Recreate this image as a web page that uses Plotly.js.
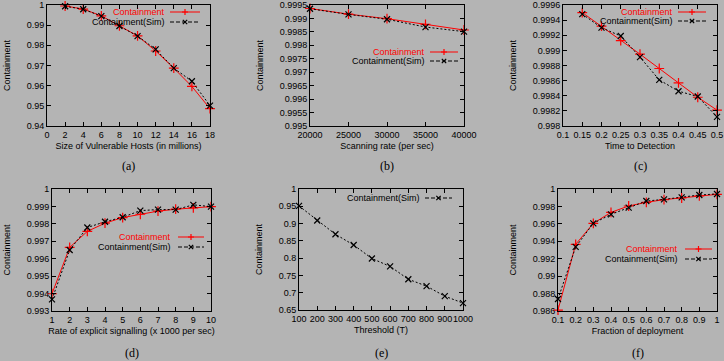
<!DOCTYPE html>
<html><head><meta charset="utf-8">
<script src="https://cdn.plot.ly/plotly-3.0.1.min.js"></script>
<style>body{margin:0;padding:0;background:#b4b4b4}#chart{width:724px;height:361px}</style>
</head><body><div id="chart"></div>
<script>
// ---- data ----
const seriesModel = "Containment";
const seriesSim = "Containment(Sim)";
const yTitle = "Containment";
const captions = ["(a)", "(b)", "(c)", "(d)", "(e)", "(f)"];
const xTitles = ["Size of Vulnerable Hosts (in millions)", "Scanning rate (per sec)", "Time to Detection",
                 "Rate of explicit signalling (x 1000 per sec)", "Threshold (T)", "Fraction of deployment"];

const aX = [2, 4, 6, 8, 10, 12, 14, 16, 18];
const aModel = [0.9995, 0.9980, 0.9946, 0.9897, 0.9847, 0.9772, 0.9687, 0.9596, 0.9486];
const aSim = [0.9994, 0.9979, 0.9945, 0.9896, 0.9846, 0.9780, 0.9687, 0.9622, 0.9501];

const bX = [20000, 25000, 30000, 35000, 40000];
const bModel = [0.99937, 0.99916, 0.99899, 0.99878, 0.99857];
const bSim = [0.99936, 0.99915, 0.99897, 0.99868, 0.99851];

const cX = [0.15, 0.2, 0.25, 0.3, 0.35, 0.4, 0.45, 0.5];
const cModel = [0.99950, 0.99932, 0.99913, 0.99895, 0.99876, 0.99857, 0.99838, 0.99821];
const cSim = [0.99948, 0.99930, 0.99919, 0.99891, 0.99861, 0.99846, 0.99839, 0.99812];

const dX = [1, 2, 3, 4, 5, 6, 7, 8, 9, 10];
const dModel = [0.99399, 0.99665, 0.99757, 0.99804, 0.99836, 0.99855, 0.99873, 0.99884, 0.99892, 0.99899];
const dSim = [0.99367, 0.99650, 0.99779, 0.99812, 0.99838, 0.99876, 0.99882, 0.99882, 0.99909, 0.99899];

const eX = [100, 200, 300, 400, 500, 600, 700, 800, 900, 1000];
const eSim = [0.951, 0.909, 0.869, 0.838, 0.799, 0.776, 0.739, 0.719, 0.690, 0.670];

const fX = [0.1, 0.2, 0.3, 0.4, 0.5, 0.6, 0.7, 0.8, 0.9, 1.0];
const fModel = [0.98611, 0.99365, 0.99606, 0.99732, 0.99805, 0.99847, 0.99878, 0.99897, 0.99920, 0.99939];
const fSim = [0.98738, 0.99335, 0.99606, 0.99709, 0.99786, 0.99862, 0.99881, 0.99904, 0.99931, 0.99943];

// ---- layout helpers ----
const W = 724, H = 361;
const px = x => x / W, py = y => 1 - y / H;
const BG = '#b4b4b4';
const RED = '#ff0000';
const FONT = 'Liberation Sans, Arial, sans-serif';

const panels = [
  {x: aX, m: aModel, s: aSim, box: [47, 5, 210, 126], xr: [0, 18], xd: 2, yr: [0.94, 1], yd: 0.01,
   leg: {yr: 12, ys: 22, tr: 167, l0: 170, l1: 200}},
  {x: bX, m: bModel, s: bSim, box: [310, 5, 464, 126], xr: [20000, 40000], xd: 5000, yr: [0.995, 0.9995], yd: 0.0005,
   leg: {yr: 52, ys: 61, tr: 427, l0: 430, l1: 458}},
  {x: cX, m: cModel, s: cSim, box: [563, 5, 717, 126], xr: [0.1, 0.5], xd: 0.05, yr: [0.998, 0.9996], yd: 0.0002,
   leg: {yr: 12, ys: 21, tr: 675, l0: 678, l1: 706}},
  {x: dX, m: dModel, s: dSim, box: [52, 189, 211, 311], xr: [1, 10], xd: 1, yr: [0.993, 1], yd: 0.001,
   leg: {yr: 237, ys: 247, tr: 173, l0: 178, l1: 204}},
  {x: eX, m: null, s: eSim, box: [299, 189, 463, 310], xr: [100, 1000], xd: 100, yr: [0.65, 1], yd: 0.05,
   leg: {yr: null, ys: 198, tr: 422, l0: 425, l1: 452}},
  {x: fX, m: fModel, s: fSim, box: [558, 189, 717, 311], xr: [0.1, 1], xd: 0.1, yr: [0.986, 1], yd: 0.002,
   leg: {yr: 249, ys: 259, tr: 680, l0: 685, l1: 712}}
];

const traces = [];
const layout = {
  width: W, height: H, margin: {l: 0, r: 0, t: 0, b: 0},
  paper_bgcolor: BG, plot_bgcolor: BG, showlegend: false,
  font: {family: FONT, size: 9, color: '#000'},
  annotations: [], shapes: []
};

function crossPath(cx, cy, r) {
  return `M${px(cx - r)},${py(cy)} L${px(cx + r)},${py(cy)} M${px(cx)},${py(cy - r)} L${px(cx)},${py(cy + r)}`;
}
function xPath(cx, cy, r) {
  return `M${px(cx - r)},${py(cy - r)} L${px(cx + r)},${py(cy + r)} M${px(cx - r)},${py(cy + r)} L${px(cx + r)},${py(cy - r)}`;
}
const pad = r => { const e = (r[1] - r[0]) * 1e-6; return [r[0] - e, r[1] + e]; };

panels.forEach((p, i) => {
  const n = i + 1;
  const xa = n === 1 ? 'x' : 'x' + n, ya = n === 1 ? 'y' : 'y' + n;
  const xk = n === 1 ? 'xaxis' : 'xaxis' + n, yk = n === 1 ? 'yaxis' : 'yaxis' + n;
  const [L, T, R, B] = p.box;
  const common = {showline: true, linecolor: '#000', linewidth: 1, mirror: 'allticks', ticks: 'inside',
                  ticklen: 4, tickcolor: '#000', showgrid: false, zeroline: false, fixedrange: true, tickangle: 0,
                  tickfont: {family: FONT, size: 9, color: '#000'}};
  layout[xk] = Object.assign({}, common, {domain: [px(L), px(R)], range: pad(p.xr), dtick: p.xd, tick0: p.xr[0],
    anchor: ya, tickformat: (p.xr[1] >= 1000 ? 'd' : ''),
    title: {text: xTitles[i], font: {family: FONT, size: 9}, standoff: 3}});
  layout[yk] = Object.assign({}, common, {domain: [py(B), py(T)], range: pad(p.yr), dtick: p.yd, tick0: p.yr[0],
    anchor: xa, title: {text: yTitle, font: {family: FONT, size: 9}, standoff: 14}});

  if (p.m) traces.push({x: p.x, y: p.m, xaxis: xa, yaxis: ya, type: 'scatter', mode: 'lines+markers', name: seriesModel,
    line: {color: RED, width: 1}, marker: {symbol: 'cross-thin', size: 7, line: {color: RED, width: 1.2}}, cliponaxis: false});
  traces.push({x: p.x, y: p.s, xaxis: xa, yaxis: ya, type: 'scatter', mode: 'lines+markers', name: seriesSim,
    line: {color: '#000', width: 1, dash: '2px,2px'}, marker: {symbol: 'x-thin', size: 6, line: {color: '#000', width: 1.2}}, cliponaxis: false});

  // legend (gnuplot style: text then sample)
  const lg = p.leg;
  const mid = (lg.l0 + lg.l1) / 2;
  if (lg.yr !== null) {
    layout.annotations.push({xref: 'paper', yref: 'paper', x: px(lg.tr), y: py(lg.yr), xanchor: 'right', yanchor: 'middle',
      text: seriesModel, showarrow: false, font: {family: FONT, size: 9, color: RED}});
    layout.shapes.push({type: 'line', xref: 'paper', yref: 'paper', x0: px(lg.l0), x1: px(lg.l1), y0: py(lg.yr), y1: py(lg.yr),
      line: {color: RED, width: 1}});
    layout.shapes.push({type: 'path', xref: 'paper', yref: 'paper', path: crossPath(mid, lg.yr, 3), line: {color: RED, width: 1.2}});
  }
  layout.annotations.push({xref: 'paper', yref: 'paper', x: px(lg.tr), y: py(lg.ys), xanchor: 'right', yanchor: 'middle',
    text: seriesSim, showarrow: false, font: {family: FONT, size: 9, color: '#000'}});
  layout.shapes.push({type: 'line', xref: 'paper', yref: 'paper', x0: px(lg.l0), x1: px(lg.l1), y0: py(lg.ys), y1: py(lg.ys),
    line: {color: '#000', width: 1, dash: '4px,2px'}});
  layout.shapes.push({type: 'path', xref: 'paper', yref: 'paper', path: xPath(mid, lg.ys, 2.2), line: {color: '#000', width: 1.2}});

  // caption
  const capY = i < 3 ? 166 : 353;
  layout.annotations.push({xref: 'paper', yref: 'paper', x: px((L + R) / 2), y: py(capY), xanchor: 'center', yanchor: 'middle',
    text: captions[i], showarrow: false, font: {family: 'Liberation Serif, Times New Roman, serif', size: 12, color: '#000'}});
});

Plotly.newPlot('chart', traces, layout, {staticPlot: true});
</script></body></html>
